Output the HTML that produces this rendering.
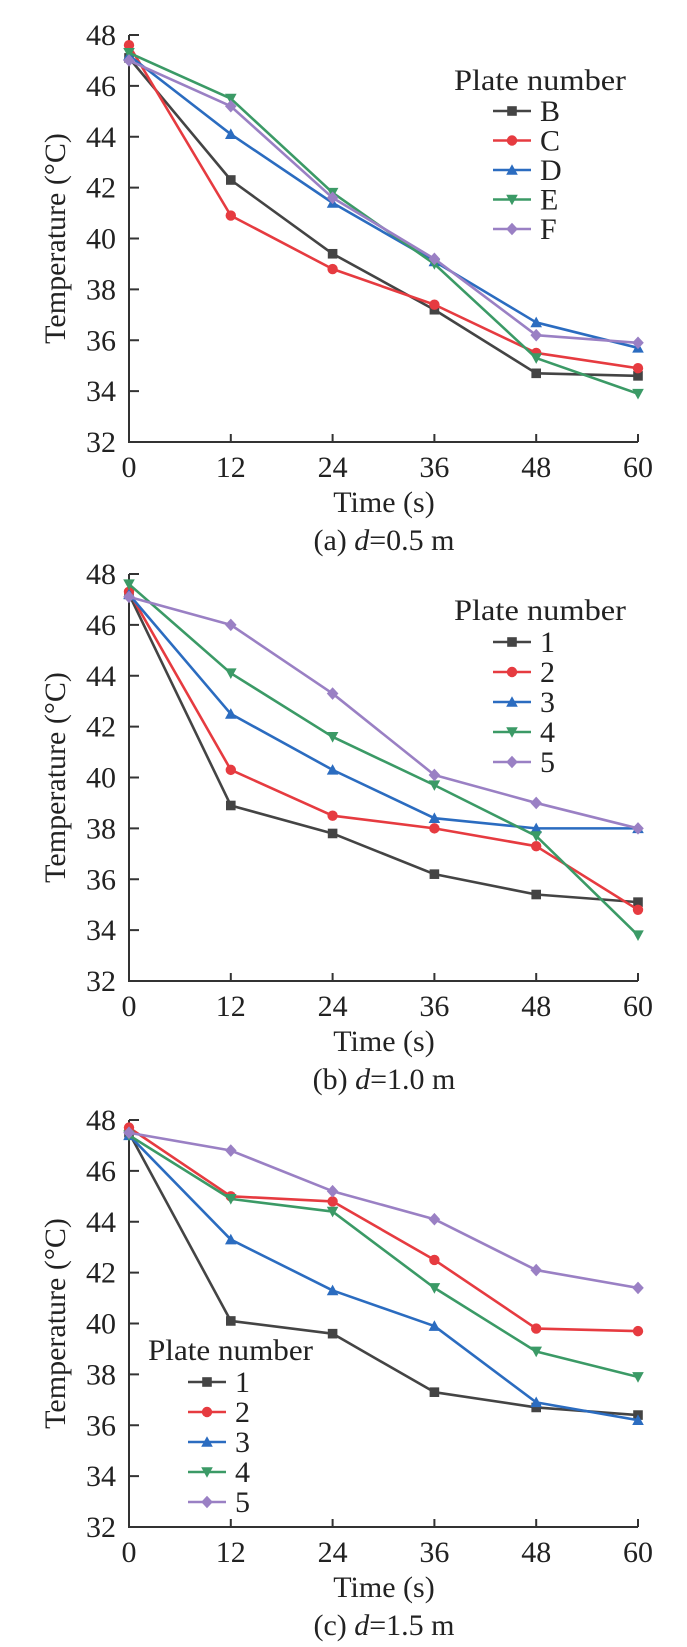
<!DOCTYPE html>
<html><head><meta charset="utf-8">
<style>
html,body{margin:0;padding:0;background:#fff;}
svg{display:block;font-family:"Liberation Serif","Times New Roman",serif;}
</style></head>
<body>
<svg id="fig" width="687" height="1647" viewBox="0 0 687 1647" xmlns="http://www.w3.org/2000/svg"></svg>
<script>
const timeCategories = [0, 12, 24, 36, 48, 60];
const yTickLabels = [32, 34, 36, 38, 40, 42, 44, 46, 48];
const seriesColors = ["#444444", "#e63b40", "#2b6cc0", "#3b9a66", "#9a80c4"];
const seriesMarkers = ["square", "circle", "triangle", "tridown", "diamond"];

const namesA = ["B", "C", "D", "E", "F"];
const a_B = [47.1, 42.3, 39.4, 37.2, 34.7, 34.6];
const a_C = [47.6, 40.9, 38.8, 37.4, 35.5, 34.9];
const a_D = [47.2, 44.1, 41.4, 39.1, 36.7, 35.7];
const a_E = [47.3, 45.5, 41.8, 39.0, 35.3, 33.9];
const a_F = [47.0, 45.2, 41.6, 39.2, 36.2, 35.9];

const namesB = ["1", "2", "3", "4", "5"];
const b_1 = [47.2, 38.9, 37.8, 36.2, 35.4, 35.1];
const b_2 = [47.3, 40.3, 38.5, 38.0, 37.3, 34.8];
const b_3 = [47.2, 42.5, 40.3, 38.4, 38.0, 38.0];
const b_4 = [47.6, 44.1, 41.6, 39.7, 37.7, 33.8];
const b_5 = [47.1, 46.0, 43.3, 40.1, 39.0, 38.0];

const namesC = ["1", "2", "3", "4", "5"];
const c_1 = [47.5, 40.1, 39.6, 37.3, 36.7, 36.4];
const c_2 = [47.7, 45.0, 44.8, 42.5, 39.8, 39.7];
const c_3 = [47.4, 43.3, 41.3, 39.9, 36.9, 36.2];
const c_4 = [47.4, 44.9, 44.4, 41.4, 38.9, 37.9];
const c_5 = [47.5, 46.8, 45.2, 44.1, 42.1, 41.4];

const NS = "http://www.w3.org/2000/svg";
const svg = document.getElementById("fig");
const FS = 30;
function mk(tag, attrs, parent){
  const e = document.createElementNS(NS, tag);
  for (const k in attrs) e.setAttribute(k, attrs[k]);
  (parent || svg).appendChild(e);
  return e;
}
function marker(g, type, x, y, color){
  const s = 4.8;
  let e;
  if (type === "square") e = mk("rect", {x:x-s, y:y-s, width:2*s, height:2*s, fill:color}, g);
  else if (type === "circle") e = mk("circle", {cx:x, cy:y, r:s+0.4, fill:color}, g);
  else if (type === "triangle") e = mk("polygon", {points:`${x},${y-s-1} ${x-s-1},${y+s} ${x+s+1},${y+s}`, fill:color}, g);
  else if (type === "tridown") e = mk("polygon", {points:`${x},${y+s+1} ${x-s-1},${y-s} ${x+s+1},${y-s}`, fill:color}, g);
  else e = mk("polygon", {points:`${x},${y-s-1.5} ${x+s+1},${y} ${x},${y+s+1.5} ${x-s-1},${y}`, fill:color}, g);
  
  
}

function panel(cfg){
  const x0 = 129, x1 = 638, yTop = cfg.yTop, yBot = cfg.yBot;
  const xs = v => x0 + (v - 0) / 60 * (x1 - x0);
  const ys = v => yBot - (v - 32) / 16 * (yBot - yTop);
  const g = mk("g", {});
  
  
  const ax = mk("path", {d:`M${x0},${ys(48)} V${yBot} H${x1}`, stroke:"#333", "stroke-width":2, fill:"none"}, g);
  
  
  yTickLabels.forEach(t => {
    const y = ys(t);
    const tk = mk("line", {x1:x0, x2:x0+10, y1:y, y2:y, stroke:"#333", "stroke-width":2}, g);
    
    
    const tl = mk("text", {x:116, y:y+10, "font-size":FS, "text-anchor":"end", fill:"#222"}, g);
    tl.textContent = t;
    
    
  });
  timeCategories.forEach(t => {
    const x = xs(t);
    const tk = mk("line", {x1:x, x2:x, y1:yBot, y2:yBot-8, stroke:"#333", "stroke-width":2}, g);
    
    
    const tl = mk("text", {x:x, y:yBot+35, "font-size":FS, "text-anchor":"middle", fill:"#222"}, g);
    tl.textContent = t;
    
    
  });
  const xt = mk("text", {x:384, y:yBot+70, "font-size":FS, "text-anchor":"middle", fill:"#222"}, g);
  xt.textContent = "Time (s)";
  
  
  const cy = (yTop + yBot) / 2;
  const yt = mk("text", {x:0, y:0, "font-size":FS, "text-anchor":"middle", fill:"#222", transform:`translate(65,${cy}) rotate(-90)`}, g);
  yt.textContent = "Temperature (°C)";
  
  
  const cap = mk("text", {x:384, y:yBot+108, "font-size":FS, "text-anchor":"middle", fill:"#222"}, g);
  cap.innerHTML = cfg.capPre + '<tspan font-style="italic">d</tspan>=' + cfg.capVal;
  
  
  cfg.series.forEach((vals, i) => {
    const sg = mk("g", {}, g);
    
    
    const pts = vals.map((v, j) => `${xs(timeCategories[j])},${ys(v)}`).join(" ");
    const pl = mk("polyline", {points:pts, fill:"none", stroke:seriesColors[i], "stroke-width":2.6, "stroke-linejoin":"round"}, sg);
    
    
    vals.forEach((v, j) => marker(sg, seriesMarkers[i], xs(timeCategories[j]), ys(v), seriesColors[i]));
  });
  const L = cfg.legend;
  const lg = mk("g", {}, g);
  
  
  const lt = mk("text", {x:L.tx, y:L.ty, "font-size":FS, fill:"#222", textLength:L.tw, lengthAdjust:"spacingAndGlyphs"}, lg);
  lt.textContent = "Plate number";
  
  
  cfg.names.forEach((n, i) => {
    const y = L.y0 + i * L.dy;
    const eg = mk("g", {}, lg);
    
    
    mk("line", {x1:L.lx, x2:L.lx+38, y1:y, y2:y, stroke:seriesColors[i], "stroke-width":2.6}, eg);
    marker(eg, seriesMarkers[i], L.lx+19, y, seriesColors[i]);
    const t = mk("text", {x:L.lx+47, y:y+10, "font-size":FS, fill:"#222"}, eg);
    t.textContent = n;
  });
}

panel({id:"panel-a", yTop:35, yBot:442, names:namesA, series:[a_B,a_C,a_D,a_E,a_F],
  capPre:"(a) ", capVal:"0.5 m",
  legend:{tx:454, ty:90, tw:172, lx:493, y0:111, dy:29.5}});
panel({id:"panel-b", yTop:574, yBot:981, names:namesB, series:[b_1,b_2,b_3,b_4,b_5],
  capPre:"(b) ", capVal:"1.0 m",
  legend:{tx:454, ty:620, tw:172, lx:493, y0:642, dy:30}});
panel({id:"panel-c", yTop:1120, yBot:1527, names:namesC, series:[c_1,c_2,c_3,c_4,c_5],
  capPre:"(c) ", capVal:"1.5 m",
  legend:{tx:148, ty:1360, tw:165, lx:188, y0:1382, dy:30}});
</script>
</body></html>
